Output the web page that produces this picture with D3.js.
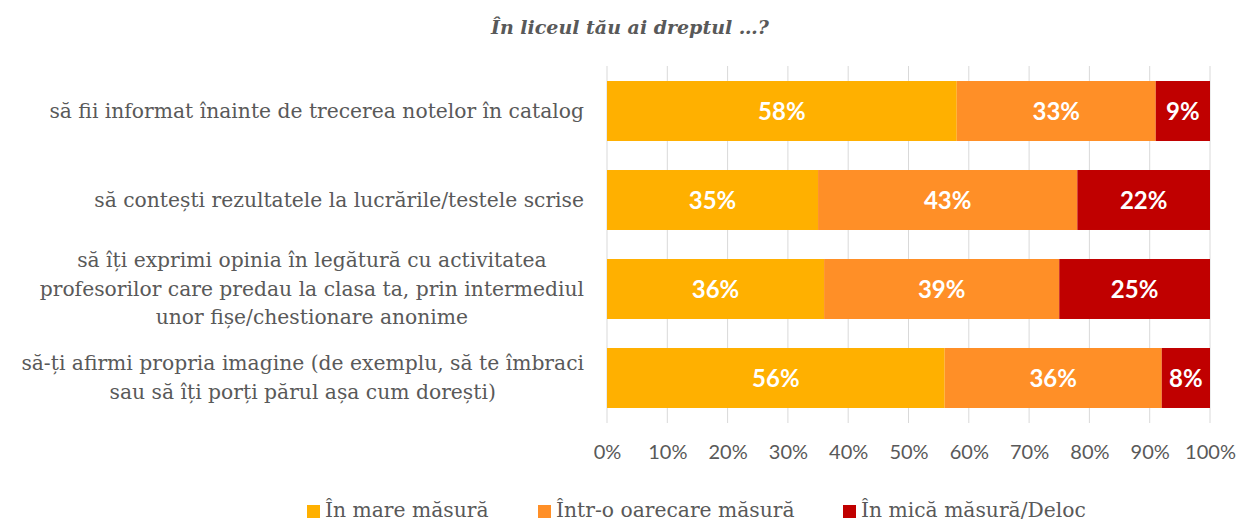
<!DOCTYPE html>
<html>
<head>
<meta charset="utf-8">
<script src="https://cdn.jsdelivr.net/npm/d3@7"></script>
<style>
  body { margin: 0; background: #fff; }
  svg { display: block; }
</style>
</head>
<body>
<div id="chart"></div>
<script>
const categories = [
  ["să fii informat înainte de trecerea notelor în catalog"],
  ["să contești rezultatele la lucrările/testele scrise"],
  ["să îți exprimi opinia în legătură cu activitatea", "profesorilor care predau la clasa ta, prin intermediul", "unor fișe/chestionare anonime"],
  ["să-ți afirmi propria imagine (de exemplu, să te îmbraci", "sau să îți porți părul așa cum dorești)"]
];
const seriesNames = ["În mare măsură", "Într-o oarecare măsură", "În mică măsură/Deloc"];
const mare = [58, 35, 36, 56];
const oarecare = [33, 43, 39, 36];
const mica = [9, 22, 25, 8];
const tickValues = [0, 10, 20, 30, 40, 50, 60, 70, 80, 90, 100];
const colors = ["#FFB000", "#FF8F27", "#C00000"];

const W = 1237, H = 521;
const serif = "'DejaVu Serif', serif";
const svg = d3.select("#chart").append("svg").attr("width", W).attr("height", H);

const x = d3.scaleLinear().domain([0, 100]).range([607, 1210]);
const y = d3.scaleBand().domain(d3.range(categories.length)).range([66.5, 422.5])
  .paddingInner(0.326).paddingOuter(0.163);

// title
svg.append("text")
  .attr("x", 630).attr("y", 34)
  .attr("text-anchor", "middle")
  .style("font-family", serif)
  .style("font-size", "19px").style("font-weight", "bold").style("font-style", "italic")
  .attr("fill", "#595959")
  .text("În liceul tău ai dreptul …?");

// gridlines
svg.append("g").selectAll("line").data(tickValues).join("line")
  .attr("x1", d => x(d)).attr("x2", d => x(d))
  .attr("y1", 66).attr("y2", 423)
  .attr("stroke", "#D9D9D9").attr("stroke-width", 1);

// axis labels
const xAxis = svg.append("g").attr("transform", "translate(0,423)")
  .call(d3.axisBottom(x).tickValues(tickValues).tickFormat(d => d + "%").tickSize(0).tickPadding(22));
xAxis.select(".domain").remove();
xAxis.selectAll("text")
  .style("font-family", "Lato, sans-serif").style("font-size", "20px").attr("fill", "#595959");

// stacked bars
const rows = categories.map((c, i) => ({ i, vals: [mare[i], oarecare[i], mica[i]] }));
const stack = d3.stack().keys([0, 1, 2]).value((d, k) => d.vals[k]);
const layers = stack(rows);

const g = svg.append("g");
layers.forEach((layer, k) => {
  g.selectAll(".s" + k).data(layer).join("rect")
    .attr("x", d => x(d[0]))
    .attr("width", d => x(d[1]) - x(d[0]))
    .attr("y", d => y(d.data.i))
    .attr("height", y.bandwidth())
    .attr("fill", colors[k]);
  g.selectAll(".l" + k).data(layer).join("text")
    .attr("x", d => (x(d[0]) + x(d[1])) / 2)
    .attr("y", d => y(d.data.i) + y.bandwidth() / 2)
    .attr("dy", "0.36em")
    .attr("text-anchor", "middle")
    .style("font-family", "Lato, sans-serif").style("font-size", "24px").style("font-weight", "bold")
    .attr("fill", "#fff")
    .text(d => (d[1] - d[0]) + "%");
});

// category labels: centred lines, block right edge near the axis
const lineH = 28.5;
categories.forEach((lines, i) => {
  const t = svg.append("text")
    .style("font-family", serif)
    .style("font-size", "20.3px")
    .attr("fill", "#595959");
  const spans = lines.map(l => t.append("tspan").text(l));
  const maxW = d3.max(spans, s => s.node().getComputedTextLength());
  const cx = 584 - maxW / 2;
  const cy = y(i) + y.bandwidth() / 2 - (lines.length - 1) * lineH / 2;
  t.attr("text-anchor", "middle");
  spans.forEach((s, j) => s.attr("x", cx).attr("y", cy + j * lineH).attr("dy", "0.33em"));
});

// legend
const legendX = [307, 538, 843];
const lg = svg.append("g");
seriesNames.forEach((name, k) => {
  lg.append("rect").attr("x", legendX[k]).attr("y", 505).attr("width", 13).attr("height", 13).attr("fill", colors[k]);
  lg.append("text").attr("x", legendX[k] + 18).attr("y", 510).attr("dy", "0.33em")
    .style("font-family", serif).style("font-size", "20.3px")
    .attr("fill", "#595959").text(name);
});
</script>
</body>
</html>
